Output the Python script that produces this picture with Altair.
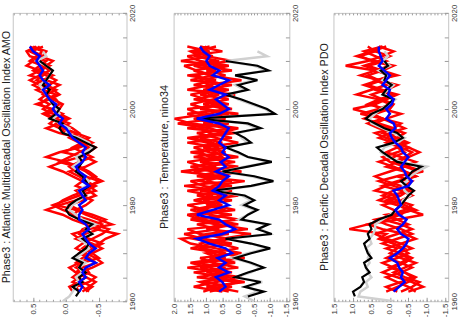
import math
import altair as alt
import pandas as pd

# ---------------- data ----------------
GRAY_START, BLACK_START, MODEL_START = 1960, 1961, 1962

# AMO
amo_gray = [0.05, -0.05, -0.10, -0.15, -0.20, -0.15, -0.25, -0.20, -0.30, -0.15,
            -0.25, -0.35, -0.30, -0.20, -0.40, -0.30, -0.45, -0.25, -0.15, -0.05,
            -0.10, -0.20, -0.30, -0.20, -0.30, -0.35, -0.25, -0.20, -0.10, -0.20,
            -0.15, -0.30, -0.40, -0.35, -0.20, 0.00, -0.05, 0.10, 0.20, 0.10,
            0.15, 0.20, 0.25, 0.30, 0.35, 0.40, 0.30, 0.25, 0.20, 0.30,
            0.45, 0.30, 0.35]
amo_black = [-0.15, -0.20, -0.10, -0.25, -0.20, -0.30, -0.20, -0.25, -0.10, -0.20,
             -0.30, -0.35, -0.25, -0.40, -0.30, -0.40, -0.20, -0.05, 0.00, -0.05,
             -0.15, -0.30, -0.25, -0.35, -0.30, -0.25, -0.15, -0.20, -0.25, -0.20,
             -0.35, -0.45, -0.30, -0.15, 0.05, 0.10, 0.05, 0.25, 0.15, 0.10,
             0.20, 0.25, 0.30, 0.25, 0.35, 0.30, 0.25, 0.20, 0.30, 0.40]
amo_blue = [-0.20, -0.25, -0.20, -0.30, -0.25, -0.30, -0.45, -0.30, -0.35, -0.45,
            -0.35, -0.30, -0.25, -0.35, -0.30, -0.20, -0.20, -0.25, -0.20, -0.30,
            -0.25, -0.20, -0.35, -0.25, -0.30, -0.20, -0.15, -0.25, -0.30, -0.25,
            -0.30, -0.20, -0.10, -0.05, 0.00, 0.10, 0.05, 0.15, 0.20, 0.15,
            0.25, 0.30, 0.35, 0.25, 0.35, 0.40, 0.35, 0.40, 0.45, 0.40,
            0.50, 0.55]
amo_red1 = [-0.10, -0.05, -0.20, -0.30, -0.15, -0.25, -0.45, -0.35, -0.20, -0.30,
            -0.50, -0.60, -0.78, -0.45, -0.30, -0.10, 0.05, 0.30, 0.10, -0.15,
            -0.30, -0.20, -0.40, -0.25, -0.10, 0.05, 0.25, 0.05, -0.20, -0.35,
            -0.45, -0.30, -0.10, -0.15, 0.05, 0.15, 0.00, 0.20, 0.35, 0.25,
            0.40, 0.30, 0.15, 0.30, 0.45, 0.35, 0.50, 0.40, 0.30, 0.55,
            0.60, 0.45]
amo_red2 = [-0.30, -0.40, -0.25, -0.10, -0.20, -0.40, -0.55, -0.45, -0.30, -0.15,
            -0.25, -0.40, -0.55, -0.65, -0.40, -0.20, -0.15, 0.05, 0.20, 0.00,
            -0.20, -0.45, -0.35, -0.50, -0.30, -0.15, -0.05, -0.20, -0.40, -0.25,
            -0.10, -0.25, -0.35, -0.15, 0.05, -0.05, 0.15, 0.30, 0.10, 0.05,
            0.20, 0.35, 0.25, 0.10, 0.30, 0.55, 0.40, 0.25, 0.45, 0.35,
            0.50, 0.40]
amo_red3 = [-0.20, -0.15, -0.35, -0.45, -0.30, -0.15, -0.25, -0.50, -0.40, -0.25,
            -0.35, -0.15, -0.30, -0.50, -0.55, -0.35, -0.10, -0.20, -0.05, -0.25,
            -0.45, -0.35, -0.15, -0.25, -0.45, -0.35, -0.20, 0.00, 0.30, 0.10,
            -0.20, -0.40, -0.25, 0.00, 0.10, 0.25, 0.15, 0.05, 0.25, 0.40,
            0.30, 0.15, 0.35, 0.50, 0.35, 0.20, 0.40, 0.60, 0.50, 0.35,
            0.30, 0.50]
amo_red4 = [-0.35, -0.25, -0.10, -0.20, -0.35, -0.30, -0.15, -0.25, -0.40, -0.55,
            -0.40, -0.20, -0.10, -0.35, -0.70, -0.50, -0.30, -0.15, -0.30, -0.40,
            -0.25, -0.15, -0.35, -0.55, -0.40, -0.30, -0.15, 0.10, -0.05, -0.20,
            -0.35, -0.20, -0.05, -0.20, -0.10, 0.05, 0.20, 0.35, 0.20, 0.10,
            0.15, 0.30, 0.45, 0.25, 0.15, 0.30, 0.45, 0.30, 0.20, 0.40,
            0.55, 0.35]
amo_red5 = [-0.25, -0.35, -0.45, -0.30, -0.15, -0.05, -0.20, -0.35, -0.25, -0.40,
            -0.55, -0.35, -0.20, -0.25, -0.45, -0.60, -0.40, -0.15, 0.15, 0.05,
            -0.10, -0.30, -0.45, -0.30, -0.20, -0.05, -0.30, -0.45, -0.30, 0.05,
            -0.15, -0.30, -0.20, 0.10, 0.30, 0.10, -0.05, 0.10, 0.20, 0.45,
            0.25, 0.10, 0.20, 0.40, 0.55, 0.40, 0.25, 0.35, 0.55, 0.45,
            0.35, 0.55]

# Nino34
nino_gray = [-0.50, -0.20, -0.60, -0.30, -0.75, 0.10, -0.40, -0.70, -0.35, 0.20,
             -0.30, -0.90, -0.40, 0.30, -1.00, -0.70, -0.85, 0.00, -0.30, -0.50,
             -0.10, -0.40, -0.10, 0.70, -0.50, -1.00, -0.40, 0.50, -0.20, -1.00,
             -0.30, 0.10, 0.30, -0.30, -0.10, 0.00, -0.60, -0.20, 1.20, -1.05,
             -0.85, -0.40, 0.00, 0.30, -0.20, 0.10, -0.50, 0.10, -0.90, -0.50,
             0.40, -0.90, -0.60]
nino_black = [-0.30, -0.80, -0.20, -0.70, 0.10, -0.30, -0.80, -0.40, 0.10, -0.40,
              -1.00, -0.40, 0.40, -1.05, -0.60, -0.95, -0.10, -0.30, -0.60, -0.20,
              -0.50, -0.20, 0.80, -0.40, -1.10, -0.50, 0.50, -0.30, -1.05, -0.30,
              0.00, 0.40, -0.40, -0.20, 0.10, -0.70, -0.30, 1.30, -1.15, -0.90,
              -0.50, -0.10, 0.40, -0.30, 0.00, -0.60, 0.10, -0.95, -0.60, 0.40]
nino_blue = [0.60, 0.40, 0.50, 0.70, 0.30, 0.60, 0.40, 0.65, 0.20, 0.40,
             0.90, 1.30, 0.50, 0.10, 0.40, 0.60, 1.30, 0.80, 0.30, 0.60,
             0.40, 0.80, 0.60, 0.50, 0.30, 0.70, 0.40, 0.55, 0.30, 0.50,
             0.40, 0.60, 0.50, 0.40, 0.30, 0.60, 1.30, 0.60, 0.30, 0.50,
             0.70, 0.40, 0.90, 0.60, 0.30, 0.80, 0.60, 0.90, 1.00, 0.90,
             1.10, 1.20]
nino_red1 = [0.90, 0.20, 1.10, 0.40, 1.40, 0.00, 0.80, 1.20, -0.10, 0.70,
             1.50, 1.80, 0.30, 0.90, 0.10, 1.20, 1.60, 0.40, 1.00, 0.20,
             1.30, 0.50, 1.70, 0.20, 0.90, 1.40, 0.00, 1.10, 0.60, 1.50,
             0.30, 1.00, 1.60, 0.40, 0.90, 1.90, 0.70, 0.00, 1.20, 0.50,
             1.40, 0.60, 1.10, 0.20, 1.50, 0.80, 1.30, 1.70, 0.60, 1.40,
             0.90, 1.60]
nino_red2 = [0.30, 1.00, -0.20, 0.80, 0.50, 1.20, 0.10, 0.60, 1.00, 0.00,
             0.60, 1.40, 1.00, -0.30, 0.70, 1.50, 0.20, 1.30, 0.50, 1.10,
             0.00, 1.20, 0.80, -0.20, 1.30, 0.60, 1.00, 0.10, 1.40, 0.40,
             1.10, 0.00, 0.70, 1.30, 0.20, 1.50, 2.00, 0.90, 0.40, 1.10,
             0.30, 1.20, 0.50, 1.00, -0.10, 0.90, 1.40, 0.50, 1.80, 0.80,
             1.30, 0.70]
nino_red3 = [1.10, 0.60, 0.00, 1.30, 0.20, 0.90, 1.50, 0.40, 0.80, 1.20,
             0.20, 1.10, 1.70, 0.60, 1.30, 0.00, 0.90, 1.50, 0.70, 1.40,
             0.80, 1.60, 0.20, 1.00, 0.50, 1.80, 0.70, 1.20, 0.00, 0.90,
             1.40, 0.50, 1.20, 0.10, 1.60, 0.80, 1.40, 0.30, 1.00, 1.50,
             0.80, 0.10, 1.60, 0.90, 1.20, 0.40, 1.00, 0.30, 1.20, 1.60,
             0.50, 1.20]
nino_red4 = [0.50, 1.40, 0.70, -0.10, 1.00, 0.40, 1.30, -0.20, 0.50, 1.50,
             0.80, 0.30, 1.20, 1.60, 0.00, 0.80, 0.40, 1.00, 1.60, 0.50,
             1.00, 0.20, 1.10, 1.50, 0.30, 0.80, 1.50, 0.40, 0.90, 1.20,
             0.60, 1.60, 0.20, 0.90, 1.20, 0.30, 1.10, 1.60, 0.20, 0.80,
             1.20, 0.90, 0.30, 1.40, 0.70, 1.60, 0.20, 1.10, 0.80, 1.20,
             1.50, 0.90]
nino_red5 = [0.00, 0.80, 1.20, 0.30, 0.60, 1.60, 0.20, 0.90, 0.40, 1.10,
             1.20, 0.50, -0.40, 1.00, 0.60, 1.10, 1.40, 0.10, 0.80, 1.30,
             0.50, 1.00, 0.40, 1.20, 0.80, -0.10, 1.10, 1.60, 0.50, 0.70,
             1.00, 0.80, 1.40, 0.60, 0.00, 1.10, 0.40, 1.20, 1.60, 0.30,
             1.00, 1.50, 0.70, 0.40, 1.00, 1.30, 0.70, 1.40, 0.20, 1.00,
             1.40, 1.00]

# PDO
pdo_gray = [-0.10, 0.85, 0.80, 0.60, 0.65, 0.50, 0.60, 0.65, 0.55, 0.60,
            0.55, 0.65, 0.50, 0.55, 0.45, 0.40, 0.40, 0.20, 0.00, -0.20,
            -0.30, -0.35, -0.55, -0.40, -0.35, -0.45, -0.55, -0.75, -1.00, -0.30,
            0.05, 0.25, 0.15, -0.20, -0.40, -0.10, 0.20, 0.50, 0.55, 0.40,
            0.25, 0.00, -0.15, 0.20, 0.05, -0.10, 0.20, 0.05, 0.30, 0.00,
            0.20, 0.05, 0.15]
pdo_black = [0.95, 1.00, 0.80, 0.70, 0.75, 0.55, 0.65, 0.70, 0.50, 0.60,
             0.65, 0.70, 0.55, 0.60, 0.50, 0.55, 0.30, -0.05, -0.15, -0.30,
             -0.40, -0.50, -0.65, -0.45, -0.30, -0.50, -0.60, -0.85, -0.20, 0.00,
             0.20, 0.35, -0.10, -0.35, -0.20, 0.15, 0.40, 0.65, 0.50, 0.20,
             0.05, -0.10, 0.20, 0.10, -0.05, 0.15, 0.10, 0.25, 0.05, 0.15]
pdo_blue = [-0.10, -0.25, -0.40, -0.30, -0.35, -0.25, -0.20, 0.00, -0.20, -0.35,
            -0.45, -0.50, -0.30, -0.20, -0.35, -0.45, -0.25, -0.15, -0.30, -0.25,
            -0.20, -0.10, -0.50, -0.60, -0.45, -0.40, -0.30, -0.40, -0.50, -0.35,
            -0.30, -0.15, -0.05, 0.00, -0.15, -0.10, 0.10, 0.00, 0.10, -0.05,
            -0.10, 0.05, 0.00, 0.20, 0.10, 0.00, 0.15, 0.30, 0.20, 0.25,
            0.30, 0.30]
pdo_red1 = [-0.20, 0.10, -0.30, -0.60, -0.40, -0.10, 0.20, -0.20, -0.50, -0.30,
            -0.10, 0.30, 0.10, 1.10, 0.60, -0.20, -0.90, -0.50, -0.20, 0.10,
            -0.20, 0.40, 0.10, -0.30, -0.70, -0.40, 0.10, -0.20, -0.50, -0.80,
            -0.50, -0.20, 0.10, -0.20, 0.30, 0.60, 0.20, 0.50, 1.00, 0.40,
            0.10, -0.20, 0.30, 0.70, 0.30, 0.00, 0.40, 1.20, 0.60, 0.20,
            -0.10, 0.30]
pdo_red2 = [-0.70, -0.50, -0.20, 0.10, -0.30, -0.60, -0.30, 0.10, -0.20, -0.40,
            -0.10, 0.20, -0.20, -0.60, -0.30, 0.20, 0.00, -0.40, -0.60, -0.20,
            0.20, -0.10, -0.40, -0.60, -0.20, -0.90, -0.50, -0.10, -0.40, -0.60,
            -0.30, 0.10, -0.20, -0.40, 0.00, 0.40, 0.10, -0.30, 0.20, 0.50,
            0.20, -0.10, 0.40, 0.60, 0.20, -0.10, 0.30, 0.70, 0.30, 0.00,
            0.40, 0.20]
pdo_red3 = [-0.50, -0.90, -0.60, -0.20, 0.20, -0.10, -0.40, -0.60, -0.30, 0.10,
            -0.30, -0.70, -0.40, 0.20, 0.60, 0.10, -0.30, -0.10, 0.20, -0.30,
            -0.60, -0.30, 0.20, -0.20, -0.70, -0.40, -0.10, 0.30, -0.10, -0.40,
            -0.20, -0.50, -0.20, 0.20, -0.10, 0.30, 0.70, 0.40, 0.00, -0.10,
            0.20, 0.50, 0.10, -0.20, 0.30, 0.60, 0.20, -0.10, 0.50, 0.80,
            0.40, 0.60]
pdo_red4 = [0.10, -0.20, -0.50, -0.70, -0.40, 0.00, -0.30, -0.50, -0.20, -0.60,
            -0.30, 0.10, 0.40, 0.00, -0.50, -0.20, 0.10, -0.70, -0.40, 0.00,
            -0.30, -0.50, -0.10, 0.30, -0.20, -0.80, -0.40, 0.00, 0.20, -0.20,
            -0.50, -0.10, 0.30, 0.00, -0.40, -0.10, 0.20, 0.50, 0.10, 0.60,
            0.30, -0.10, 0.20, 0.60, 0.30, 0.80, 0.40, 0.00, 0.40, 0.90,
            0.50, 0.10]
pdo_red5 = [-0.30, -0.60, -0.80, -0.40, -0.10, -0.40, -0.70, -0.30, 0.00, -0.20,
            0.20, -0.20, -0.60, -0.30, 0.10, 0.40, -0.20, -0.60, -0.20, 0.30,
            0.00, -0.60, -0.30, 0.10, 0.40, 0.00, -0.40, -0.70, -0.30, 0.10,
            -0.20, -0.40, 0.10, 0.40, -0.10, -0.30, 0.20, 0.80, 0.30, 0.00,
            0.30, 0.90, 0.50, 0.10, 0.40, -0.20, 0.20, 0.60, 0.10, 0.40,
            0.70, 0.20]

titles = ["Phase3 : Atlantic Multidecadal Oscillation Index AMO",
          "Phase3 : Temperature, nino34",
          "Phase3 : Pacific Decadal Oscillation Index PDO"]
major_ticks = [[-0.5, 0.0, 0.5],
               [-1.5, -1.0, -0.5, 0.0, 0.5, 1.0, 1.5, 2.0],
               [-1.5, -1.0, -0.5, 0.0, 0.5, 1.0, 1.5]]
year_ticks = list(range(1960, 2021, 5))

FONT = "Liberation Sans"
LABEL_EXPR = "replace(format(datum.value, '.1f'), '\u2212', '-')"


def series_df(values, start):
    return pd.DataFrame({"year": list(range(start, start + len(values))), "value": values})


def panel(title, gray, black, blue, reds, lo, hi, major, width):
    red_df = pd.concat(
        [series_df(r, MODEL_START).assign(run=f"r{i}") for i, r in enumerate(reds)],
        ignore_index=True)
    xs = alt.Scale(domain=[lo, hi], reverse=True, nice=False, zero=False)
    ys = alt.Scale(domain=[1960, 2020], nice=False, zero=False)
    minor = [round(k * 0.1, 1) for k in range(math.ceil(lo * 10), math.floor(hi * 10) + 1)]

    ax_major = alt.Axis(orient="bottom", values=major, labelExpr=LABEL_EXPR,
                        labelAngle=270, labelAlign="right", labelBaseline="middle",
                        labelFontSize=8, labelPadding=2, tickSize=4, offset=-4,
                        domain=False, grid=False, title=None, labelFlush=False,
                        labelOverlap=False)
    ax_minor = alt.Axis(orient="bottom", values=minor, labels=False, tickSize=2,
                        offset=-2, domain=False, grid=False, title=None)
    ax_top = alt.Axis(orient="top", values=minor, labels=False, tickSize=2,
                      offset=-2, domain=False, grid=False, title=None)
    ax_year = alt.Axis(orient="right", values=year_ticks,
                       labelExpr="datum.value % 20 == 0 ? '' + datum.value : ''",
                       labelAngle=270, labelAlign="center", labelBaseline="top",
                       labelFontSize=8, labelPadding=2, tickSize=4, offset=-4,
                       domain=False, grid=False, title=None, labelOverlap=False,
                       labelFlush=False)

    red = alt.Chart(red_df).mark_line(color="#ff0000", strokeWidth=2.5, clip=True).encode(
        x=alt.X("value:Q", scale=xs, axis=ax_major),
        y=alt.Y("year:Q", scale=ys, axis=ax_year),
        detail="run:N", order="year:Q")
    g = alt.Chart(series_df(gray, GRAY_START)).mark_line(
        color="#d0d0d0", strokeWidth=2.5, clip=True).encode(
        x=alt.X("value:Q", scale=xs, axis=ax_minor),
        y=alt.Y("year:Q", scale=ys, axis=None), order="year:Q")
    b = alt.Chart(series_df(black, BLACK_START)).mark_line(
        color="#000000", strokeWidth=2.2, clip=True).encode(
        x=alt.X("value:Q", scale=xs, axis=ax_top),
        y=alt.Y("year:Q", scale=ys, axis=None), order="year:Q")
    bl = alt.Chart(series_df(blue, MODEL_START)).mark_line(
        color="#0000ff", strokeWidth=2.5, clip=True).encode(
        x=alt.X("value:Q", scale=xs, axis=None),
        y=alt.Y("year:Q", scale=ys, axis=None), order="year:Q")

    return alt.layer(red, g, b, bl).resolve_axis(x="independent", y="independent").properties(
        width=width, height=294,
        title=alt.TitleParams(text=title, orient="left", anchor="middle", fontSize=11,
                              font=FONT, fontWeight="normal", color="#222222", offset=1))


p1 = panel(titles[0], amo_gray, amo_black, amo_blue,
           [amo_red1, amo_red2, amo_red3, amo_red4, amo_red5], -0.92, 0.81, major_ticks[0], 116)
p2 = panel(titles[1], nino_gray, nino_black, nino_blue,
           [nino_red1, nino_red2, nino_red3, nino_red4, nino_red5], -1.6, 2.03, major_ticks[1], 118)
p3 = panel(titles[2], pdo_gray, pdo_black, pdo_blue,
           [pdo_red1, pdo_red2, pdo_red3, pdo_red4, pdo_red5], -1.58, 1.53, major_ticks[2], 117)

chart = alt.hconcat(alt.hconcat(p1, p2, spacing=21), p3, spacing=18).properties(
    padding={"left": 0, "top": 0, "right": 0, "bottom": 0},
    background="white",
).configure_view(stroke="#c4c4c4", strokeWidth=1).configure_axis(
    tickColor="#9a9a9a", labelColor="#333333", labelFont=FONT, tickWidth=1)

chart.save("out.html", embed_options={"renderer": "svg", "actions": False})
